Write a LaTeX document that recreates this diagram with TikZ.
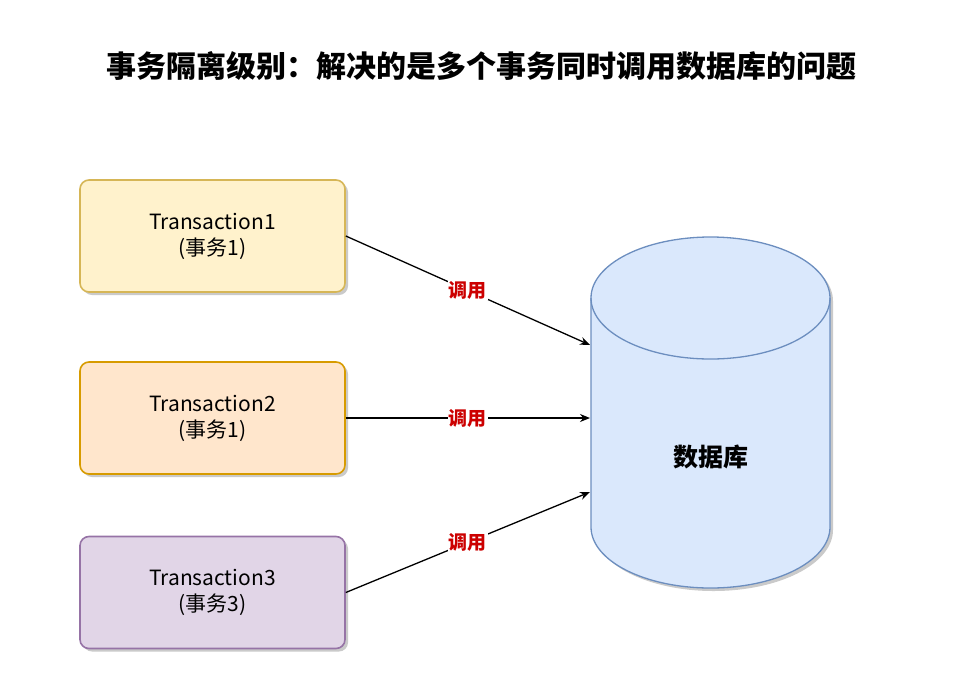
\documentclass[tikz,border=0pt]{standalone}
\usepackage{fontspec}
\setmainfont{Noto Sans CJK SC}
\usetikzlibrary{arrows.meta,shadows}
\definecolor{txyel}{HTML}{FFF2CC}
\definecolor{txyeld}{HTML}{D6B656}
\definecolor{txorg}{HTML}{FFE6CC}
\definecolor{txorgd}{HTML}{D79B00}
\definecolor{txpur}{HTML}{E1D5E7}
\definecolor{txpurd}{HTML}{9673A6}
\definecolor{dbblue}{HTML}{DAE8FC}
\definecolor{dbblued}{HTML}{6C8EBF}
\definecolor{callred}{HTML}{CC0000}

\begin{document}
\begin{tikzpicture}[x=1pt, y=1pt,
                    shade3/.style={drop shadow={shadow xshift=3pt, shadow yshift=-3pt,
                      fill=black!35, opacity=.6}},
                    txbox/.style={rounded corners=9pt, line width=1.6pt, shade3,
                      minimum width=265pt, minimum height=112pt, align=center,
                      font=\fontsize{21}{26}\selectfont},
                    call/.style={fill=white, inner sep=1pt, text=callred,
                      font=\fontsize{19}{22}\selectfont\bfseries},
                    >={Stealth[length=10pt,width=8pt]}]
  \useasboundingbox (0,0) rectangle (966,-691);

  % title
  \node[font=\fontsize{30}{34}\selectfont\bfseries] (title) at (481,-66)
    {事务隔离级别：解决的是多个事务同时调用数据库的问题};

  % the three transactions
  \node[txbox, fill=txyel, draw=txyeld] (t1) at (212.5,-236)
    {Transaction1\\(事务1)};
  \node[txbox, fill=txorg, draw=txorgd] (t2) at (212.5,-418)
    {Transaction2\\(事务1)};
  \node[txbox, fill=txpur, draw=txpurd] (t3) at (212.5,-592.5)
    {Transaction3\\(事务3)};

  % the database: body, then the front rim of the lid
  \draw[fill=dbblue, draw=dbblued, line width=1.3pt, shade3]
    (591,-298) -- (591,-527)
    arc[start angle=180, end angle=360, x radius=119.5, y radius=61]
    -- (830,-298)
    arc[start angle=0, end angle=180, x radius=119.5, y radius=61] -- cycle;
  \draw[dbblued, line width=1.3pt] (591,-298)
    arc[start angle=180, end angle=360, x radius=119.5, y radius=61];
  \node[font=\fontsize{25}{28}\selectfont\bfseries] (db) at (710.5,-457) {数据库};
  \coordinate (in1) at (590,-345);
  \coordinate (in2) at (590,-418);
  \coordinate (in3) at (590,-492);

  \draw[->, line width=1.3pt] (t1.east) -- node[call] {调用} (in1);
  \draw[->, line width=1.3pt] (t2.east) -- node[call] {调用} (in2);
  \draw[->, line width=1.3pt] (t3.east) -- node[call] {调用} (in3);
\end{tikzpicture}
\end{document}
